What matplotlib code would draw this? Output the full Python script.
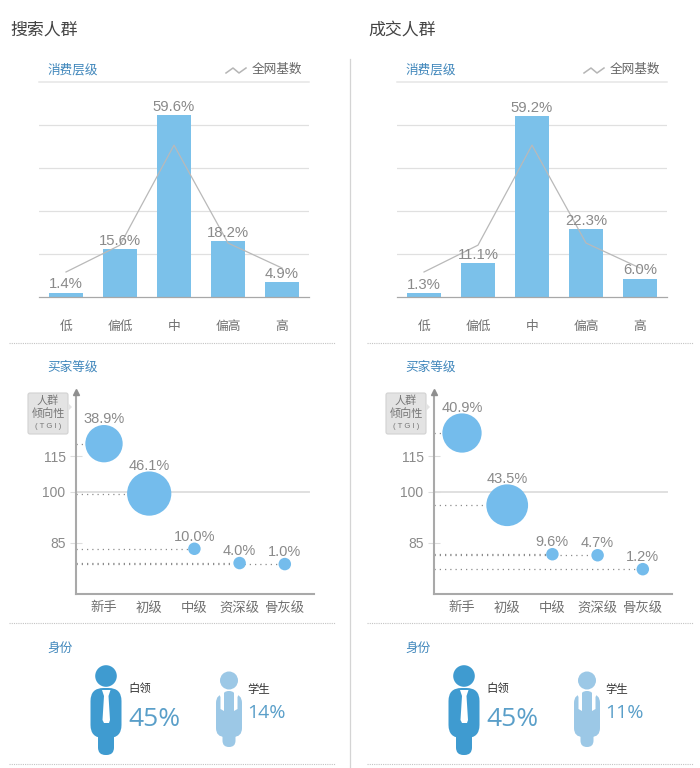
"""
Recreate the search / deal audience comparison panels
"""
import numpy as np
import matplotlib
matplotlib.use('Agg')
import matplotlib.pyplot as plt
from matplotlib.patches import Circle, FancyBboxPatch, Polygon

plt.rcParams['font.family'] = ['Liberation Sans', 'Noto Sans CJK SC', 'DejaVu Sans']

W, H = 700, 768
OFFSET = 358

panel_titles = ['搜索人群', '成交人群']

spend_levels = ['低', '偏低', '中', '偏高', '高']
spend_search = [1.4, 15.6, 59.6, 18.2, 4.9]
spend_deal = [1.3, 11.1, 59.2, 22.3, 6.0]
spend_base = [8.2, 17.0, 49.8, 17.7, 9.5]

buyer_levels = ['新手', '初级', '中级', '资深级', '骨灰级']
buyer_search = [38.9, 46.1, 10.0, 4.0, 1.0]
buyer_deal = [40.9, 43.5, 9.6, 4.7, 1.2]
tgi_search = [120.2, 99.4, 83.3, 79.1, 78.8]
tgi_deal = [124.7, 96.0, 81.7, 81.4, 77.3]
tgi_ticks = [85, 100, 115]

id_search = [('白领', '45%'), ('学生', '14%')]
id_deal = [('白领', '45%'), ('学生', '11%')]

BLUE = '#7bc1ea'
BUBBLE = '#74bcec'
TITLE_BLUE = '#3f86bb'
GREY_TEXT = '#8a8a8a'
LABEL_TEXT = '#707070'

# non linear TGI axis, pixel heights measured from the axis bottom
TGI_KNOTS = [70, 85, 100, 115, 142]
TGI_PIXELS = [0, 51, 102.5, 138, 202]


def tgi_forward(values):
    return np.interp(values, TGI_KNOTS, TGI_PIXELS)


def tgi_inverse(values):
    return np.interp(values, TGI_PIXELS, TGI_KNOTS)


def px_axes(fig, left, top, right, bottom):
    """Add an axes given by its pixel box (origin top left)."""
    return fig.add_axes([left / W, 1 - bottom / H, (right - left) / W, (bottom - top) / H])


def draw_spend(fig, dx, values):
    axis = px_axes(fig, 39 + dx, 82, 309 + dx, 297)
    x_pos = np.arange(len(values))
    axis.set_xlim(-0.5, 4.5)
    axis.set_ylim(0, 70.5)
    axis.set_yticks([14.1, 28.2, 42.3, 56.4])
    axis.grid(axis='y', color='#e0e0e0', lw=0.9)
    axis.set_axisbelow(True)
    axis.bar(x_pos, values, width=0.615, color=BLUE)
    axis.plot(x_pos, spend_base, color='#b9b9b9', lw=0.9, zorder=4)
    for x_val, val in zip(x_pos, values):
        axis.annotate(f'{val:.1f}%', (x_val, val), xytext=(0, 1), textcoords='offset points',
                      ha='center', va='bottom', fontsize=10.7, color=GREY_TEXT, zorder=5)
    for side in ('top', 'left', 'right'):
        axis.spines[side].set_visible(False)
    axis.spines['bottom'].set_color('#a8a8a8')
    axis.spines['bottom'].set_linewidth(0.9)
    axis.set_xticks(x_pos, spend_levels)
    axis.tick_params(axis='x', length=0, pad=17, labelsize=9.2, labelcolor=LABEL_TEXT)
    axis.tick_params(axis='y', length=0, labelleft=False)


def draw_buyer(fig, dx, shares, tgi):
    axis = px_axes(fig, 76 + dx, 392, 314 + dx, 594)
    x_pos = np.arange(len(shares))
    axis.set_xlim(-28 / 45.2, 210 / 45.2)
    axis.set_yscale('function', functions=(tgi_forward, tgi_inverse))
    axis.set_ylim(70, 142)
    axis.axhline(100, xmax=233 / 238, color='#e0e0e0', lw=1.4, zorder=1)
    for x_val, val in zip(x_pos, tgi):
        axis.plot([axis.get_xlim()[0], x_val], [val, val], color='#8c8c8c', lw=0.9,
                  ls=(0, (1, 3.2)), zorder=2)
    diameters = np.maximum(12.5, np.array(shares) * 0.96)
    sizes = (diameters * 72 / 100) ** 2
    axis.scatter(x_pos, tgi, s=sizes, color=BUBBLE, linewidths=0, zorder=3)
    for x_val, val, share, diam in zip(x_pos, tgi, shares, diameters):
        axis.annotate(f'{share:.1f}%', (x_val, val), xytext=(0, diam * 0.36 - 1),
                      textcoords='offset points', ha='center', va='bottom',
                      fontsize=10.5, color=GREY_TEXT, zorder=5)
    for side in ('top', 'right'):
        axis.spines[side].set_visible(False)
    for side in ('left', 'bottom'):
        axis.spines[side].set_color('#a9a9a9')
        axis.spines[side].set_linewidth(1.5)
    axis.plot(0, 1, marker='^', ms=5, color='#8f8f8f', transform=axis.transAxes,
              clip_on=False, zorder=6)
    axis.set_xticks(x_pos, buyer_levels)
    axis.set_yticks(tgi_ticks)
    axis.minorticks_off()
    axis.tick_params(axis='x', length=0, pad=5.5, labelsize=9.6, labelcolor=LABEL_TEXT)
    axis.tick_params(axis='y', direction='inout', length=8, color='#dddddd', pad=3.5,
                     labelsize=10, labelcolor=GREY_TEXT)


def rounded(over, left, top, right, bottom, radius, color):
    over.add_patch(FancyBboxPatch((left + radius, top + radius), right - left - 2 * radius,
                                  bottom - top - 2 * radius,
                                  boxstyle=f'round,pad={radius},rounding_size={radius}',
                                  fc=color, ec='none'))


def draw_worker(over, cx):
    """Office worker icon in overlay pixels."""
    color = '#3f9bd0'
    over.add_patch(Circle((cx, 676), 10.8, fc=color, ec='none'))
    rounded(over, cx - 15.5, 688, cx + 15.5, 738, 13, color)
    rounded(over, cx - 8, 722, cx + 8, 755, 7.5, color)
    over.add_patch(Polygon([(cx - 4, 690), (cx + 4.5, 690), (cx + 2.5, 696), (cx + 4, 720),
                            (cx + 3, 723), (cx - 2, 723), (cx - 3.5, 720), (cx - 2, 696)],
                           fc='white', ec='none'))


def draw_student(over, cx):
    """Student icon in overlay pixels."""
    color = '#9cc8e6'
    over.add_patch(Circle((cx, 680.5), 9, fc=color, ec='none'))
    rounded(over, cx - 13, 694, cx + 13, 737, 9, color)
    rounded(over, cx - 6.5, 691, cx + 6.5, 747, 6.4, color)
    for sign in (-1, 1):
        over.add_patch(Polygon([(cx + sign * 5, 690), (cx + sign * 12, 690), (cx + sign * 8.5, 697),
                                (cx + sign * 8.5, 709), (cx + sign * 5, 711)],
                               fc='white', ec='none'))


def draw_overlay(over, dx, title, identity):
    over.text(10 + dx, 30, title, fontsize=12.2, color='#444444', va='center')
    for y_pos, label in zip((70.5, 367.5, 648.5), ('消费层级', '买家等级', '身份')):
        over.text(47 + dx, y_pos, label, fontsize=9.1, color=TITLE_BLUE, va='center')
    # legend of the base line
    over.plot(np.array([226, 233, 239, 246]) + dx, [73, 68, 73, 68], color='#b5b5b5', lw=1.1)
    over.text(252 + dx, 70, '全网基数', fontsize=9.1, color='#666666', va='center')
    for y_pos in (343, 623, 764):
        over.plot([9 + dx, 335 + dx], [y_pos, y_pos], color='#c4c4c4', lw=0.8, ls=(0, (1, 1)))
    # TGI tag
    over.add_patch(FancyBboxPatch((28 + dx, 393), 40, 41, boxstyle='round,pad=0,rounding_size=2',
                                  fc='#e3e3e3', ec='#d2d2d2', lw=0.8))
    over.add_patch(Polygon([(68 + dx, 403), (72 + dx, 407), (68 + dx, 411)], fc='#e3e3e3', ec='none'))
    over.text(48 + dx, 401, '人群', fontsize=8, color='#777777', ha='center', va='center')
    over.text(48 + dx, 414, '倾向性', fontsize=8, color='#777777', ha='center', va='center')
    over.text(48 + dx, 427, '( T G I )', fontsize=5.6, color='#777777', ha='center', va='center')
    # identity block
    draw_worker(over, 106 + dx)
    draw_student(over, 229 + dx)
    over.text(128 + dx, 689, identity[0][0], fontsize=8.2, color='#333333', va='center')
    over.text(128 + dx, 719, identity[0][1], fontsize=19, color='#5a9fc9', va='center',
              family=['Open Sans', 'DejaVu Sans'])
    over.text(247 + dx, 690, identity[1][0], fontsize=8.2, color='#333333', va='center')
    over.text(247 + dx, 713, identity[1][1], fontsize=14, color='#5a9fc9', va='center',
              family=['Open Sans', 'DejaVu Sans'])


def main() -> None:
    fig = plt.figure(figsize=(W / 100, H / 100), dpi=100, facecolor='white')
    over = fig.add_axes([0, 0, 1, 1], zorder=-1)
    over.set_xlim(0, W)
    over.set_ylim(H, 0)
    over.axis('off')

    over.plot([350, 350], [59, 768], color='#d4d4d4', lw=0.9)
    over.plot([39, 309], [82, 82], color='#e6e6e6', lw=1.1)
    over.plot([39 + OFFSET, 309 + OFFSET], [82, 82], color='#e6e6e6', lw=1.1)

    draw_overlay(over, 0, panel_titles[0], id_search)
    draw_overlay(over, OFFSET, panel_titles[1], id_deal)

    draw_spend(fig, 0, spend_search)
    draw_spend(fig, OFFSET, spend_deal)
    draw_buyer(fig, 0, buyer_search, tgi_search)
    draw_buyer(fig, OFFSET, buyer_deal, tgi_deal)

    for axis in fig.axes[1:]:
        axis.patch.set_alpha(0)

    fig.savefig('out.png', dpi=100)
    plt.close(fig)


main()
